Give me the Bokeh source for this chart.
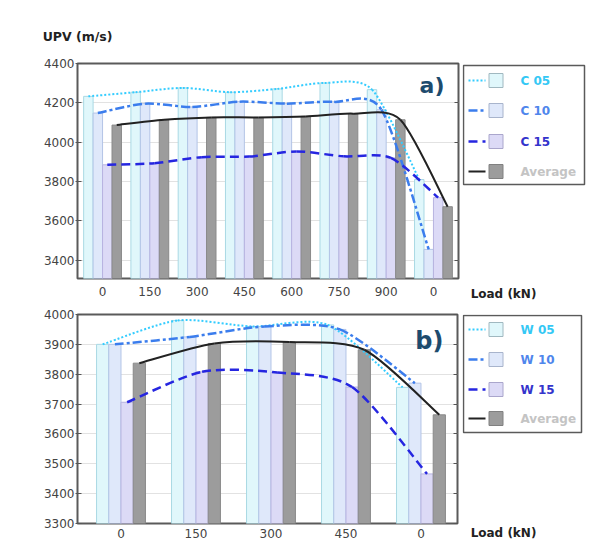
import numpy as np
from bokeh.plotting import figure
from bokeh.models import (ColumnDataSource, Range1d, FixedTicker, LinearAxis, Label,
                          CustomJSTickFormatter)
from bokeh.layouts import column, row
from bokeh.embed import file_html
from bokeh.resources import INLINE
from bokeh.core.properties import value

# ---------------- data ----------------
loads_a = ["0", "150", "300", "450", "600", "750", "900", "0"]
c05 = [4233, 4254, 4276, 4254, 4271, 4301, 4267, 3810]
c10 = [4148, 4196, 4179, 4206, 4196, 4205, 4165, 3455]
c15 = [3885, 3893, 3924, 3927, 3953, 3928, 3920, 3718]
avg_a = [4087, 4114, 4126, 4126, 4131, 4145, 4114, 3672]
ticks_a = [3400, 3600, 3800, 4000, 4200, 4400]
names_a = ["C 05", "C 10", "C 15", "Average"]

loads_b = ["0", "150", "300", "450", "0"]
w05 = [3900, 3980, 3960, 3965, 3756]
w10 = [3900, 3925, 3960, 3950, 3770]
w15 = [3706, 3808, 3806, 3757, 3466]
avg_b = [3837, 3903, 3908, 3882, 3664]
ticks_b = [3300, 3400, 3500, 3600, 3700, 3800, 3900, 4000]
names_b = ["W 05", "W 10", "W 15", "Average"]

y_title = "UPV (m/s)"
x_title = "Load (kN)"

# ---------------- styles ----------------
FILLS = ["#e0f7fb", "#dfe8fa", "#dcdaf6", "#9c9c9c"]
BORDERS = ["#a9d9e4", "#b3c4e6", "#b7b3e0", "#8a8a8a"]
LINE_COLORS = ["#33ccff", "#3b7ded", "#2626e0", "#222222"]
DASHES = ["2 2", "9 3 3 3", "9 5", "solid"]
WIDTHS = [2, 2.5, 2.5, 2]
TEXT_COLORS = ["#35c8f5", "#4f86ec", "#3434cc", "#c4c4c4"]
SQ_BORDERS = ["#a0b8c0", "#a8b4cc", "#aaa6cc", "#808080"]
FONT = "DejaVu Sans"
TENSION = 1 / 7.5


def bezier_segments(xs, ys):
    xs = np.asarray(xs, float)
    ys = np.asarray(ys, float)
    n = len(xs)
    out = dict(x0=[], y0=[], x1=[], y1=[], cx0=[], cy0=[], cx1=[], cy1=[])
    for i in range(n - 1):
        i0 = max(i - 1, 0)
        i3 = min(i + 2, n - 1)
        out["x0"].append(xs[i]); out["y0"].append(ys[i])
        out["x1"].append(xs[i + 1]); out["y1"].append(ys[i + 1])
        out["cx0"].append(xs[i] + (xs[i + 1] - xs[i0]) * TENSION)
        out["cy0"].append(ys[i] + (ys[i + 1] - ys[i0]) * TENSION)
        out["cx1"].append(xs[i + 1] - (xs[i3] - xs[i]) * TENSION)
        out["cy1"].append(ys[i + 1] - (ys[i3] - ys[i]) * TENSION)
    return out


def text_axis(ticker, text, standoff, size):
    return LinearAxis(ticker=FixedTicker(ticks=ticker),
                      formatter=CustomJSTickFormatter(code="return %r" % text),
                      axis_line_color=None, major_tick_line_color=None,
                      minor_tick_line_color=None, major_label_standoff=standoff,
                      major_label_text_font=FONT, major_label_text_font_style="bold",
                      major_label_text_font_size=size, major_label_text_color="#222222")


def make_panel(loads, series, ticks, yr, xr, bar_w, offsets, frame_w, frame_h,
               b_top, b_bottom, b_right, standoff, tag, tag_size, tag_top):
    n = len(loads)
    p = figure(frame_width=frame_w, frame_height=frame_h,
               x_range=Range1d(*xr), y_range=Range1d(*yr),
               min_border_left=77, min_border_right=b_right,
               min_border_top=b_top, min_border_bottom=b_bottom,
               output_backend="svg", toolbar_location=None,
               background_fill_color="white", border_fill_color="white")
    idx = np.arange(n)
    for k, s in enumerate(series):
        src = ColumnDataSource(dict(x=idx + offsets[k], top=s))
        p.vbar(x="x", top="top", bottom=yr[0] - 200, width=bar_w, source=src,
               fill_color=FILLS[k], line_color=BORDERS[k], line_width=1)
    for k, s in enumerate(series):
        seg = ColumnDataSource(bezier_segments(idx + offsets[k], s))
        p.bezier(x0="x0", y0="y0", x1="x1", y1="y1", cx0="cx0", cy0="cy0",
                 cx1="cx1", cy1="cy1", source=seg, line_color=LINE_COLORS[k],
                 line_width=WIDTHS[k], line_dash=DASHES[k])

    p.outline_line_color = "#5a5a5a"
    p.outline_line_width = 2
    p.xgrid.visible = False
    p.ygrid.grid_line_color = "#e2e2e2"
    p.ygrid.ticker = FixedTicker(ticks=ticks)

    xa = p.xaxis[0]
    xa.ticker = FixedTicker(ticks=list(range(n)))
    xa.major_label_overrides = {i: lab for i, lab in enumerate(loads)}
    xa.axis_line_color = None
    xa.major_tick_line_color = None
    xa.minor_tick_line_color = None
    xa.major_label_standoff = standoff
    xa.major_label_text_font = FONT
    xa.major_label_text_font_size = "12px"
    xa.major_label_text_color = "#444444"

    ya = p.yaxis[0]
    ya.ticker = FixedTicker(ticks=ticks)
    ya.axis_line_color = None
    ya.major_tick_line_color = "#555555"
    ya.major_tick_in = 4
    ya.major_tick_out = 2
    ya.minor_tick_line_color = None
    ya.major_label_standoff = 1
    ya.major_label_text_font = FONT
    ya.major_label_text_font_size = "12px"
    ya.major_label_text_color = "#444444"

    ra = LinearAxis(ticker=FixedTicker(ticks=ticks),
                    formatter=CustomJSTickFormatter(code="return ''"),
                    axis_line_color=None, major_tick_line_color="#555555",
                    major_tick_in=4, major_tick_out=0, minor_tick_line_color=None,
                    major_label_standoff=0)
    p.add_layout(ra, "right")

    p.add_layout(Label(x=frame_w - 14, y=frame_h - tag_top, x_units="screen",
                       y_units="screen", text=tag, text_align="right",
                       text_baseline="top", text_font=FONT, text_font_style="bold",
                       text_font_size=tag_size, text_color="#1d4b6e"))
    return p


def make_legend(names, frame_h, b_top, b_bottom, box, entries_y, load_standoff):
    lg = figure(frame_width=131, frame_height=frame_h, x_range=Range1d(0, 131),
                y_range=Range1d(frame_h, 0), min_border_left=0, min_border_right=0,
                min_border_top=b_top, min_border_bottom=b_bottom,
                x_axis_type=None, y_axis_type=None,
                output_backend="svg", toolbar_location=None)
    lg.grid.visible = False
    lg.outline_line_color = None
    x0, x1, y0, y1 = box
    lg.rect(x=[(x0 + x1) / 2], y=[(y0 + y1) / 2], width=[x1 - x0], height=[y1 - y0],
            fill_color=None, line_color="#5a5a5a", line_width=1.5)
    for k in range(4):
        lg.segment(x0=[6], y0=[entries_y[k]], x1=[23], y1=[entries_y[k]],
                   line_color=LINE_COLORS[k], line_width=WIDTHS[k], line_dash=DASHES[k])
    lg.scatter(x=[33.5] * 4, y=entries_y, marker="square", size=14,
               fill_color=FILLS, line_color=SQ_BORDERS, line_width=1)
    src = ColumnDataSource(dict(x=[58] * 4, y=entries_y, t=names, c=TEXT_COLORS))
    lg.text(x="x", y="y", text="t", text_color="c", source=src,
            text_font=value(FONT), text_font_style="bold", text_font_size="12px",
            text_baseline="middle", text_align="left")
    lg.add_layout(text_axis([41], x_title, load_standoff, "12px"), "below")
    return lg


# ---- panel a ----
TOP_A, FH_A, BOT_A = 63, 215, 24
pa = make_panel(loads_a, [c05, c10, c15, avg_a], ticks_a, (3307, 4400), (-0.53, 7.53),
                0.2, [-0.3, -0.1, 0.1, 0.3], 381, FH_A, TOP_A, BOT_A, 4, 2,
                "a)", "22px", 9)
pa.add_layout(text_axis([-0.529], y_title, 14, "12.5px"), "above")
la = make_legend(names_a, FH_A, TOP_A, BOT_A, (1, 122, 2, 121), [17, 47, 78, 108], 2)

# ---- panel b ----
TOP_B, FH_B, BOT_B = 11, 209, 20
bw = 0.163
pb = make_panel(loads_b, [w05, w10, w15, avg_b], ticks_b, (3300, 4000), (-0.58, 4.487),
                bw, [-1.5 * bw, -0.5 * bw, 0.5 * bw, 1.5 * bw], 380, FH_B, TOP_B, BOT_B, 5, -1,
                "b)", "24px", 12)
lb = make_legend(names_b, FH_B, TOP_B, BOT_B, (1, 119, 1, 118), [15, 45, 75, 104], -4)

layout = column(row(pa, la), row(pb, lb))
open("out.html", "w").write(file_html(layout, INLINE))
